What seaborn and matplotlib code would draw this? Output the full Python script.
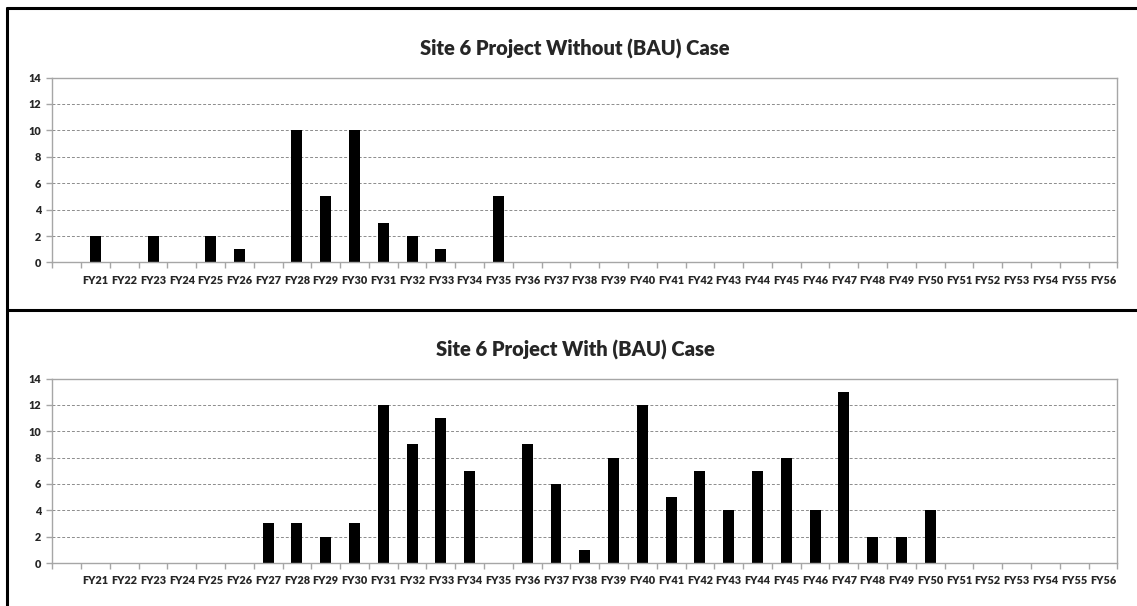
import numpy as np
import pandas as pd
import seaborn as sns
import matplotlib.pyplot as plt
from matplotlib.lines import Line2D
from matplotlib.ticker import FixedLocator

# categories (first slot of the category axis is blank, as in the source sheet)
years = [""] + [f"FY{y}" for y in range(21, 57)]

# values
without_vals = [np.nan,
                2, 0, 2, 0, 2, 1, 0, 10, 5, 10, 3, 2, 1, 0, 5, 0, 0, 0,
                0, 0, 0, 0, 0, 0, 0, 0, 0, 0, 0, 0, 0, 0, 0, 0, 0, 0]
with_vals = [np.nan,
             0, 0, 0, 0, 0, 0, 3, 3, 2, 3, 12, 9, 11, 7, 0, 9, 6, 1,
             8, 12, 5, 7, 4, 7, 8, 4, 13, 2, 2, 4, 0, 0, 0, 0, 0, 0]
y_ticks = [0, 2, 4, 6, 8, 10, 12, 14]

titles = ["Site 6 Project Without (BAU) Case", "Site 6 Project With (BAU) Case"]

sns.set_style("white")
plt.rcParams["font.family"] = ["Lato", "DejaVu Sans"]

W, H = 1137, 606
fig = plt.figure(figsize=(W / 100, H / 100), dpi=100)

left = 52.3 / W
width = (1117.3 - 52.3) / W
# (top y px, bottom y px) of each plot area
areas = [(77.5, 262.5), (378.5, 563.0)]
spine_col = "#a6a6a6"

for vals, title, (ytop, ybot) in zip([without_vals, with_vals], titles, areas):
    ax = fig.add_axes([left, 1 - ybot / H, width, (ybot - ytop) / H])
    df = pd.DataFrame({"year": years, "value": vals})
    sns.barplot(data=df, x="year", y="value", color="black", width=0.38,
                linewidth=0, saturation=1, ax=ax, order=years)
    ax.set_xlim(-0.5, len(years) - 0.5)
    ax.set_ylim(0, 14)
    ax.set_xlabel("")
    ax.set_ylabel("")
    ax.set_xticks(range(len(years)), years, fontsize=7.8, fontweight="heavy")
    ax.set_yticks(y_ticks, [str(v) for v in y_ticks], fontsize=7.8, fontweight="heavy")
    for s in ax.spines.values():
        s.set_visible(True)
        s.set_color(spine_col)
        s.set_linewidth(1.0)
    ax.grid(axis="y", color="#8c8c8c", linestyle=(0, (3, 2)), linewidth=0.7)
    ax.set_axisbelow(True)
    ax.tick_params(axis="x", which="major", length=0, pad=9)
    ax.xaxis.set_minor_locator(FixedLocator(np.arange(-0.5, len(years), 1.0)))
    ax.tick_params(axis="x", which="minor", length=4, color=spine_col, width=1, bottom=True)
    ax.tick_params(axis="y", length=4, color=spine_col, width=1, pad=4, left=True)
    ax.set_title(title, fontsize=14.5, fontweight="heavy", x=0.491, pad=16)

# chart-object borders
lw = 2.2
fig.add_artist(Line2D([7 / W, 1], [1 - 7.5 / H, 1 - 7.5 / H], color="black", lw=lw,
                      transform=fig.transFigure))
fig.add_artist(Line2D([7 / W, 7 / W], [0, 1 - 7.5 / H], color="black", lw=lw,
                      transform=fig.transFigure))
fig.add_artist(Line2D([7 / W, 1], [1 - 310 / H, 1 - 310 / H], color="black", lw=lw,
                      transform=fig.transFigure))

fig.savefig("out.png", dpi=100)
plt.close(fig)
